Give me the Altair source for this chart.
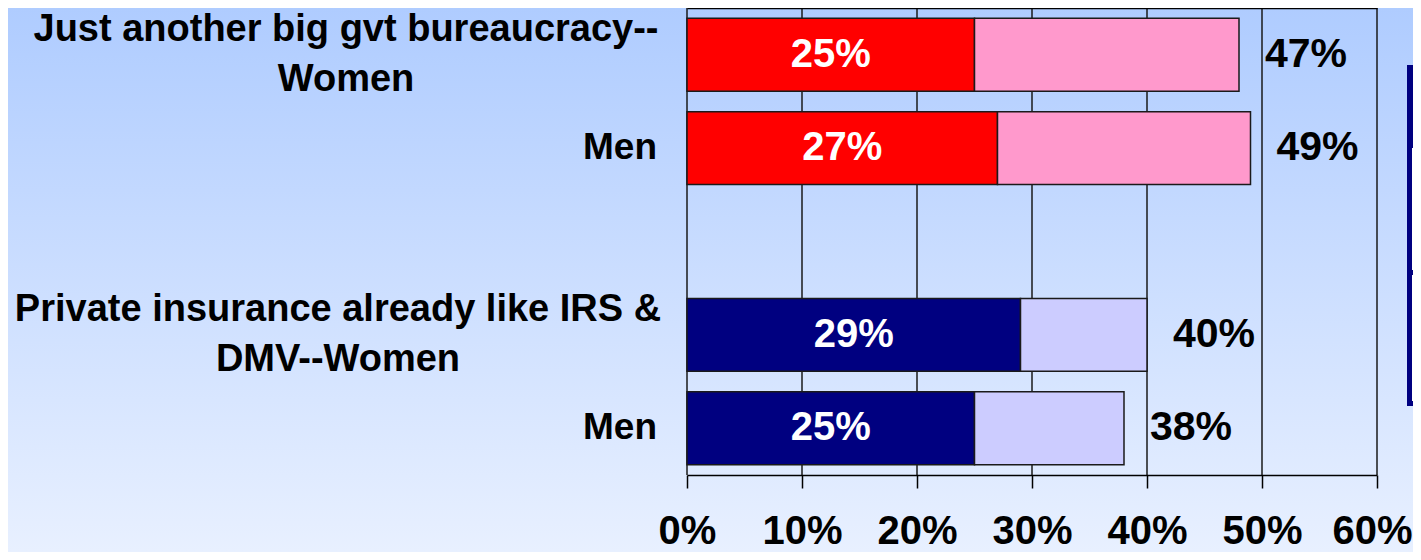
import altair as alt
import pandas as pd

# ---- data ----
row_ids = ["gvt_women", "gvt_men", "gap", "ins_women", "ins_men"]
row_labels = [
    "Just another big gvt bureaucracy--\nWomen",
    "Men",
    "",
    "Private insurance already like IRS &\nDMV--Women",
    "Men",
]
row_kind = ["two", "one", "none", "two", "one"]

bar_rows = ["gvt_women", "gvt_men", "ins_women", "ins_men"]
bar_group = ["gvt", "gvt", "ins", "ins"]
strong_vals = [25, 27, 29, 25]          # dark segment
total_vals = [48, 49, 40, 38]           # full bar length as drawn
strong_text = ["25%", "27%", "29%", "25%"]
total_text = ["47%", "49%", "40%", "38%"]
x_ticks = [0, 10, 20, 30, 40, 50, 60]

seg_keys = ["gvt_strong", "gvt_soft", "ins_strong", "ins_soft"]
seg_colors = ["#FF0000", "#FF99CC", "#000080", "#CCCCFF"]

# ---- tables built from the arrays ----
seg_records = []
for r, g, s, t in zip(bar_rows, bar_group, strong_vals, total_vals):
    seg_records.append({"row": r, "seg": g + "_strong", "x0": 0, "x1": s})
    seg_records.append({"row": r, "seg": g + "_soft", "x0": s, "x1": t})
segs = pd.DataFrame(seg_records)

bars_df = pd.DataFrame({
    "row": bar_rows, "strong": strong_vals, "total": total_vals,
    "strong_text": strong_text, "total_text": total_text,
})
labels_df = pd.DataFrame({"row": row_ids, "label": row_labels, "kind": row_kind})
ticks_df = pd.DataFrame({"tick": x_ticks})
one_df = pd.DataFrame({"k": [0]})

FONT = "Liberation Sans"
W, H = 690, 467
PAD_L, PAD_T, PAD_R, PAD_B = 679, 0, 36, 77

y_scale = alt.Scale(domain=row_ids, paddingInner=0.22, paddingOuter=0.11)
x_scale = alt.Scale(domain=[0, 60], nice=False, zero=True)

# background gradient
bg = alt.Chart(one_df).mark_rect(
    fill=alt.Gradient(
        gradient="linear", x1=0, y1=0, x2=0, y2=1,
        stops=[alt.GradientStop(offset=0, color="#AFCCFF"),
               alt.GradientStop(offset=1, color="#E8F0FF")],
    ),
    strokeWidth=0,
).encode(
    x=alt.value(-PAD_L), x2=alt.value(W + PAD_R),
    y=alt.value(-PAD_T), y2=alt.value(H + PAD_B),
)

# partially visible legend box at the right edge
leg_frame = alt.Chart(one_df).mark_rect(fill="#000080", strokeWidth=0).encode(
    x=alt.value(720), x2=alt.value(780), y=alt.value(57), y2=alt.value(398)
)
leg_cell1 = alt.Chart(one_df).mark_rect(fill="white", strokeWidth=0).encode(
    x=alt.value(725), x2=alt.value(780), y=alt.value(140), y2=alt.value(262)
)
leg_cell2 = alt.Chart(one_df).mark_rect(fill="white", strokeWidth=0).encode(
    x=alt.value(725), x2=alt.value(780), y=alt.value(267), y2=alt.value(393)
)

# vertical gridlines (drawn above the background, below the bars)
grid = alt.Chart(ticks_df).mark_rule(color="#1a1a1a", strokeWidth=1.5).encode(
    x=alt.X("tick:Q", scale=x_scale,
            axis=alt.Axis(orient="top", labels=False, ticks=False, domain=True,
                          domainColor="black", domainWidth=1.5, grid=False,
                          title=None, zindex=1)),
)

bars = alt.Chart(segs).mark_bar(stroke="#1a1a1a", strokeWidth=1.5).encode(
    x=alt.X("x0:Q", scale=x_scale,
            axis=alt.Axis(orient="bottom", values=x_ticks,
                          labelExpr="datum.value + '%'", title=None, grid=False,
                          tickSize=13, tickColor="black", tickWidth=1.5,
                          domainColor="black", domainWidth=1.5,
                          labelFontSize=40, labelFontWeight="bold",
                          labelColor="black", labelPadding=23, labelFlush=False,
                          labelOffset={"expr": "datum.value == 60 ? -5 : 0"},
                          labelFont=FONT, zindex=1)),
    x2="x1:Q",
    y=alt.Y("row:N", scale=y_scale,
            axis=alt.Axis(title=None, labels=False, tickBand="extent",
                          tickSize=12, tickColor="black", tickWidth=1.5,
                          domainColor="black", domainWidth=1.5, grid=False,
                          zindex=1)),
    color=alt.Color("seg:N", scale=alt.Scale(domain=seg_keys, range=seg_colors),
                    legend=None),
)

inner_text = alt.Chart(bars_df).transform_calculate(
    mid="datum.strong / 2"
).mark_text(color="white", fontSize=40, fontWeight="bold", font=FONT,
            align="center", baseline="middle").encode(
    x=alt.X("mid:Q", scale=x_scale, axis=None),
    y=alt.Y("row:N", scale=y_scale, axis=None),
    text="strong_text:N",
)

total_label = alt.Chart(bars_df).mark_text(
    color="black", fontSize=41, fontWeight="bold", font=FONT,
    align="left", baseline="middle", dx=26,
).encode(
    x=alt.X("total:Q", scale=x_scale, axis=None),
    y=alt.Y("row:N", scale=y_scale, axis=None),
    text="total_text:N",
)


def two_line_label(row_id, center_x):
    return alt.Chart(labels_df).transform_filter(
        alt.datum.row == row_id
    ).mark_text(color="black", fontSize=38, fontWeight="bold", font=FONT,
                align="center", baseline="middle", lineBreak="\n",
                lineHeight=50, dy=-25).encode(
        x=alt.value(center_x),
        y=alt.Y("row:N", scale=y_scale, axis=None),
        text="label:N",
    )


cat_two_a = two_line_label("gvt_women", -341)
cat_two_b = two_line_label("ins_women", -349)

cat_one = alt.Chart(labels_df).transform_filter(
    "datum.kind == 'one'"
).mark_text(color="black", fontSize=37, fontWeight="bold", font=FONT,
            align="right", baseline="middle").encode(
    x=alt.value(-30),
    y=alt.Y("row:N", scale=y_scale, axis=None),
    text="label:N",
)

chart = alt.layer(
    bg, leg_frame, leg_cell1, leg_cell2, grid, bars, inner_text, total_label,
    cat_two_a, cat_two_b, cat_one,
).resolve_axis(x="independent").properties(
    width=W, height=H,
    autosize=alt.AutoSizeParams(type="none"),
    padding={"left": PAD_L, "top": PAD_T, "right": PAD_R, "bottom": PAD_B},
).configure_view(stroke=None).configure(font=FONT)

chart.save("out.html", embed_options={"renderer": "svg", "actions": False})
